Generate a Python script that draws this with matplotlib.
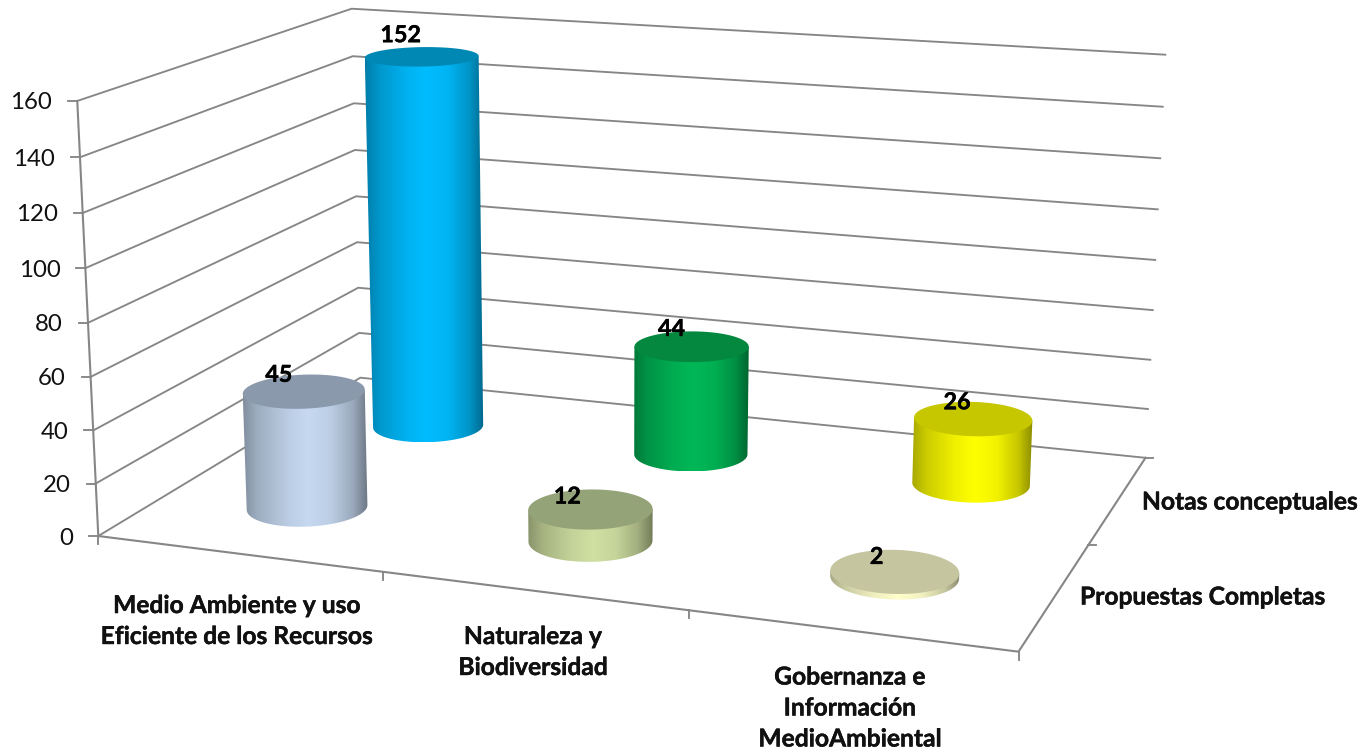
import numpy as np
import matplotlib
matplotlib.use("Agg")
import matplotlib.pyplot as plt
import matplotlib.patheffects as pe
from matplotlib.patches import Polygon, PathPatch
from matplotlib.path import Path

plt.rcParams["font.family"] = ["Lato", "DejaVu Sans"]

categories = [
    "Medio Ambiente y uso\nEficiente de los Recursos",
    "Naturaleza y\nBiodiversidad",
    "Gobernanza e\nInformación\nMedioAmbiental",
]
series_names = ["Propuestas Completas", "Notas conceptuales"]
propuestas = [45, 12, 2]
notas = [152, 44, 26]
value_ticks = [0, 20, 40, 60, 80, 100, 120, 140, 160]

# body centre colour and lid colour
propuestas_colors = [("#C6D9F1", "#8B99AD"), ("#D0E0A2", "#95A378"), ("#FFFFCC", "#C5C59F")]
notas_colors = [("#00BDFF", "#0088B4"), ("#00B857", "#04873E"), ("#FFFF00", "#C7C700")]

GRID = "#868686"
RC, RS = 0.197, 0.205  # cylinder radius in category / series units
BOLD = [pe.withStroke(linewidth=0.3, foreground="black")]

# pixel positions of the chart frame, used to fit the 3d camera
left_front = [(98, 536), (96, 483), (94, 431), (91, 377), (88, 323), (86, 268), (82, 213), (80, 157), (77, 101)]
left_back = [(360, 378), (359, 333), (358, 287), (357, 243), (357, 197), (355, 150), (354, 103), (352, 56), (352, 8)]
right_back = [(1145, 457), (1148, 409), (1150, 360), (1153, 310), (1155, 260), (1158, 210), (1160, 158), (1163, 107), (1165, 55)]
floor_marks = [((3, 0, 0), (1018, 652)), ((1, 0, 0), (382, 572)), ((2, 0, 0), (688, 610)), ((3, 1, 0), (1090, 545))]


def fit_camera():
    world, image = [], []
    for i, v in enumerate(value_ticks):
        world += [(0, 0, v / 160), (0, 2, v / 160), (3, 2, v / 160)]
        image += [left_front[i], left_back[i], right_back[i]]
    for w, p in floor_marks:
        world.append(w)
        image.append(p)
    rows = []
    for (x, y, z), (u, v) in zip(world, image):
        rows.append([x, y, z, 1, 0, 0, 0, 0, -u * x, -u * y, -u * z, -u])
        rows.append([0, 0, 0, 0, x, y, z, 1, -v * x, -v * y, -v * z, -v])
    return np.linalg.svd(np.array(rows, dtype=float))[2][-1].reshape(3, 4)


P = fit_camera()


def project(cat, ser, val):
    cat, ser, val = np.broadcast_arrays(cat, ser, val)
    w = np.stack([cat, ser, val / 160, np.ones(cat.shape)])
    q = P @ w
    return q[0] / q[2], q[1] / q[2]


def shade(color, n=300):
    rgb = np.array(matplotlib.colors.to_rgb(color))
    t = np.linspace(0, 1, n)
    f = np.interp(t, [0, 0.12, 0.35, 0.52, 0.7, 0.88, 1], [0.66, 0.8, 0.94, 1.0, 0.95, 0.78, 0.55])
    return (rgb[None, None, :] * f[None, :, None]).clip(0, 1)


def cylinder(ax, cat, ser, val, body, lid, z):
    a = np.linspace(0, 2 * np.pi, 181)
    cx, cy = cat + 0.5 + RC * np.cos(a), ser + 0.5 + RS * np.sin(a)
    bx, by = project(cx, cy, 0)
    tx, ty = project(cx, cy, val)
    # outline: top left to base left, round the front of the base, back up
    il, ir = np.argmin(bx), np.argmax(bx)
    jl, jr = np.argmin(tx), np.argmax(tx)
    order = np.arange(il, il + 181) % 181
    order = order[: np.where(order == ir)[0][0] + 1]
    if by[order].mean() < by.mean():
        order = (np.arange(il, il - 181, -1) % 181)
        order = order[: np.where(order == ir)[0][0] + 1]
    xs = np.r_[tx[jl], bx[order], tx[jr]]
    ys = np.r_[ty[jl], by[order], ty[jr]]
    clip = PathPatch(Path(np.c_[xs, ys]), fc="none", ec="none", transform=ax.transData)
    ax.add_patch(clip)
    im = ax.imshow(shade(body), extent=[xs.min(), xs.max(), ys.max(), ys.min()],
                   aspect="auto", zorder=z, interpolation="bilinear")
    im.set_clip_path(clip)
    ax.add_patch(Polygon(np.c_[tx, ty], closed=True, fc=lid, ec="none", zorder=z + 0.1))


fig = plt.figure(figsize=(13.68, 7.54), dpi=100)
ax = fig.add_axes([0, 0, 1, 1])

# walls and floor
for v in value_ticks:
    x, y = project([0, 0, 3], [0, 2, 2], [v, v, v])
    ax.plot(x, y, color=GRID, lw=1.35, zorder=1)
    ax.plot([x[0] - 9, x[0]], [y[0], y[0]], color=GRID, lw=1.35, zorder=1)
    ax.text(x[0] - 25, y[0] + 2, str(v), ha="right", va="center", fontsize=17.3, color="#111111")

x, y = project([0, 0], [0, 0], [0, 160])
ax.plot(x, y, color=GRID, lw=1.5, zorder=1)
x, y = project([0, 3, 3], [0, 0, 2], [0, 0, 0])
ax.plot(x, y, color=GRID, lw=1.5, zorder=1)
x, y = project([0, 1, 2, 3], [0, 0, 0, 0], [0, 0, 0, 0])
for xi, yi in zip(x, y):
    ax.plot([xi, xi], [yi, yi + 8], color=GRID, lw=1.35, zorder=1)
x, y = project([3, 3], [1, 2], [0, 0])
for xi, yi in zip(x, y):
    ax.plot([xi, xi + 8], [yi, yi], color=GRID, lw=1.35, zorder=1)

# back row first so the front row overlaps it
label_shift = [(-21, -21), (-20, -17), (-16, -16)]
front_shift = [(-25, -16), (-23, -12), (-18, -14)]
for ser, vals, cols, shifts in ((1, notas, notas_colors, label_shift),
                                (0, propuestas, propuestas_colors, front_shift)):
    for cat, val in enumerate(vals):
        cylinder(ax, cat, ser, val, cols[cat][0], cols[cat][1], 3 + (1 - ser) * 2 + cat * 0.2)
        tx, ty = project(cat + 0.5, ser + 0.5, val)
        ax.text(tx + shifts[cat][0], ty + shifts[cat][1], str(val), ha="center", va="center",
                fontsize=16.8, fontweight="bold", color="black", zorder=10, path_effects=BOLD)

# axis labels
cat_label_pos = [(237, 621), (533, 652), (850, 708)]
for name, (lx, ly) in zip(categories, cat_label_pos):
    ax.text(lx, ly, name, ha="center", va="center", fontsize=17.7, fontweight="bold",
            color="#111111", linespacing=1.42, zorder=10, path_effects=BOLD)
ax.text(1080, 597, series_names[0], ha="left", va="center", fontsize=17.7, fontweight="bold",
        color="#111111", path_effects=BOLD)
ax.text(1142, 502, series_names[1], ha="left", va="center", fontsize=17.7, fontweight="bold",
        color="#111111", path_effects=BOLD)

ax.set_xlim(0, 1368)
ax.set_ylim(754, 0)
ax.axis("off")
fig.savefig("out.png", dpi=100, facecolor="white")
